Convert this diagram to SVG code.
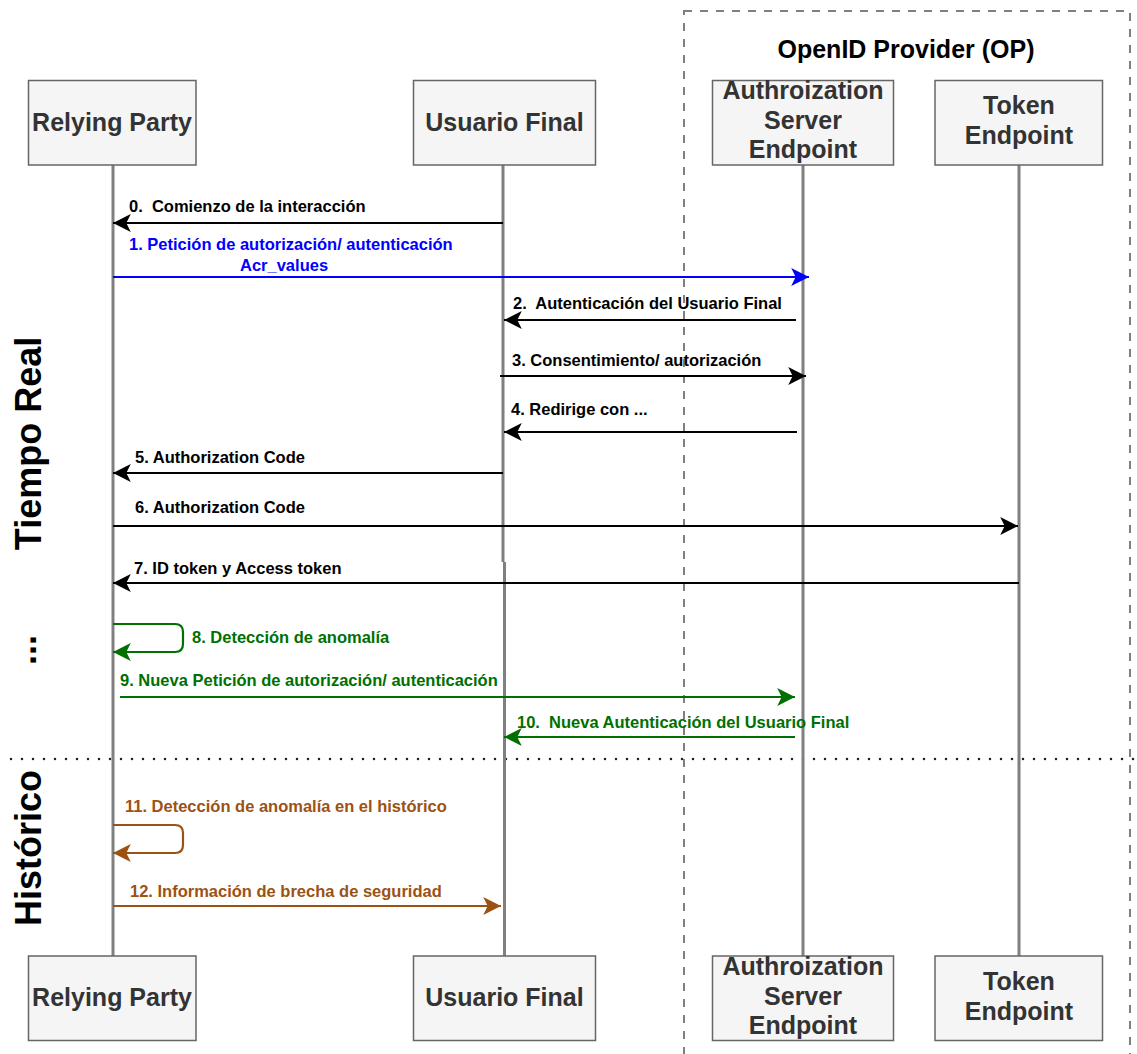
<svg xmlns="http://www.w3.org/2000/svg" width="1137" height="1054" viewBox="0 0 1137 1054">
  <style>
    .box { fill: #f5f5f5; stroke: #666666; stroke-width: 1.5; }
    .ntext { font-family: "Liberation Sans", Arial, sans-serif; font-weight: bold; font-size: 25px; fill: #333333; text-anchor: middle; }
    .life { stroke: #808080; stroke-width: 3; fill: none; }
    .lbl { font-family: "Liberation Sans", Arial, sans-serif; font-weight: bold; font-size: 16.5px; white-space: pre; }
    .side { font-family: "Liberation Sans", Arial, sans-serif; font-weight: bold; font-size: 36px; fill: #000000; text-anchor: middle; }
    .blk { stroke: #000000; stroke-width: 2.2; fill: none; }
    .blu { stroke: #0000ff; stroke-width: 2.2; fill: none; }
    .grn { stroke: #007000; stroke-width: 2.2; fill: none; }
    .brn { stroke: #9c5212; stroke-width: 2.2; fill: none; }
  </style>
  <defs>
    <marker id="ahBlack" markerUnits="userSpaceOnUse" markerWidth="20" markerHeight="20" viewBox="-17 -9 18 18" refX="0" refY="0" orient="auto">
      <path d="M0,0 L-16,-8 L-12,0 L-16,8 Z" fill="#000000"/>
    </marker>
    <marker id="ahBlue" markerUnits="userSpaceOnUse" markerWidth="20" markerHeight="20" viewBox="-17 -9 18 18" refX="0" refY="0" orient="auto">
      <path d="M0,0 L-16,-8 L-12,0 L-16,8 Z" fill="#0000ff"/>
    </marker>
    <marker id="ahGreen" markerUnits="userSpaceOnUse" markerWidth="20" markerHeight="20" viewBox="-17 -9 18 18" refX="0" refY="0" orient="auto">
      <path d="M0,0 L-16,-8 L-12,0 L-16,8 Z" fill="#007000"/>
    </marker>
    <marker id="ahBrown" markerUnits="userSpaceOnUse" markerWidth="20" markerHeight="20" viewBox="-17 -9 18 18" refX="0" refY="0" orient="auto">
      <path d="M0,0 L-16,-8 L-12,0 L-16,8 Z" fill="#9c5212"/>
    </marker>
  </defs>

  <rect width="1137" height="1054" fill="#ffffff"/>

  <!-- OpenID Provider boundary -->
  <g id="op-group">
    <rect x="684" y="11" width="446" height="1060" fill="none" stroke="#808080" stroke-width="2" stroke-dasharray="8 8"/>
    <text x="906" y="58" font-family="Liberation Sans, Arial, sans-serif" font-weight="bold" font-size="25" text-anchor="middle" fill="#000000">OpenID Provider (OP)</text>
  </g>

  <!-- phase labels -->
  <g id="phases">
    <text class="side" transform="translate(41,443.5) rotate(-90)">Tiempo Real</text>
    <text class="side" transform="translate(36,650) rotate(-90)">...</text>
    <text class="side" transform="translate(41,848) rotate(-90)">Histórico</text>
    <line x1="11" y1="759" x2="1137" y2="759" stroke="#222222" stroke-width="2.5" stroke-linecap="round" stroke-dasharray="0 11"/>
  </g>

  <!-- lifelines -->
  <g id="lifelines">
    <line class="life" x1="113" y1="165" x2="113" y2="956"/>
    <path class="life" d="M503,165 L503,562 M504.5,562 L504.5,956"/>
    <line class="life" x1="803" y1="165" x2="803" y2="956"/>
    <line class="life" x1="1019" y1="165" x2="1019" y2="956"/>
  </g>

  <!-- participants -->
  <g id="relying-party-top">
    <rect class="box" x="28.5" y="80.5" width="167.5" height="84.5"/>
    <text class="ntext" x="112" y="131">Relying Party</text>
  </g>
  <g id="usuario-final-top">
    <rect class="box" x="413.5" y="80.5" width="182" height="84.5"/>
    <text class="ntext" x="504.5" y="131">Usuario Final</text>
  </g>
  <g id="auth-server-top">
    <rect class="box" x="712.5" y="80.5" width="181" height="84.5"/>
    <text class="ntext" x="803" y="99">Authroization</text>
    <text class="ntext" x="803" y="129">Server</text>
    <text class="ntext" x="803" y="158">Endpoint</text>
  </g>
  <g id="token-endpoint-top">
    <rect class="box" x="935" y="80.5" width="167.5" height="84.5"/>
    <text class="ntext" x="1019" y="114">Token</text>
    <text class="ntext" x="1019" y="144">Endpoint</text>
  </g>

  <g id="relying-party-bottom">
    <rect class="box" x="28.5" y="956" width="167.5" height="84.5"/>
    <text class="ntext" x="112" y="1006">Relying Party</text>
  </g>
  <g id="usuario-final-bottom">
    <rect class="box" x="413.5" y="956" width="182" height="84.5"/>
    <text class="ntext" x="504.5" y="1006">Usuario Final</text>
  </g>
  <g id="auth-server-bottom">
    <rect class="box" x="712.5" y="956" width="181" height="84.5"/>
    <text class="ntext" x="803" y="975">Authroization</text>
    <text class="ntext" x="803" y="1005">Server</text>
    <text class="ntext" x="803" y="1034">Endpoint</text>
  </g>
  <g id="token-endpoint-bottom">
    <rect class="box" x="935" y="956" width="167.5" height="84.5"/>
    <text class="ntext" x="1019" y="990">Token</text>
    <text class="ntext" x="1019" y="1020">Endpoint</text>
  </g>

  <!-- messages -->
  <g id="connectors">
    <line class="blk" x1="503" y1="223" x2="113" y2="223" marker-end="url(#ahBlack)"/>
    <line class="blu" x1="113" y1="277" x2="809" y2="277" marker-end="url(#ahBlue)"/>
    <line class="blk" x1="796" y1="320" x2="504" y2="320" marker-end="url(#ahBlack)"/>
    <line class="blk" x1="500" y1="376" x2="806" y2="376" marker-end="url(#ahBlack)"/>
    <line class="blk" x1="797" y1="432" x2="504" y2="432" marker-end="url(#ahBlack)"/>
    <line class="blk" x1="503" y1="473" x2="113" y2="473" marker-end="url(#ahBlack)"/>
    <line class="blk" x1="113" y1="526" x2="1018" y2="526" marker-end="url(#ahBlack)"/>
    <line class="blk" x1="1019" y1="583" x2="113" y2="583" marker-end="url(#ahBlack)"/>
    <path class="grn" d="M113,624 L175,624 Q183,624 183,632 L183,644 Q183,652 175,652 L113,652" marker-end="url(#ahGreen)"/>
    <line class="grn" x1="120" y1="697" x2="795" y2="697" marker-end="url(#ahGreen)"/>
    <line class="grn" x1="795" y1="737" x2="504" y2="737" marker-end="url(#ahGreen)"/>
    <path class="brn" d="M113,825 L175,825 Q183,825 183,833 L183,845 Q183,853 175,853 L113,853" marker-end="url(#ahBrown)"/>
    <line class="brn" x1="113" y1="906" x2="501" y2="906" marker-end="url(#ahBrown)"/>
  </g>

  <!-- message labels -->
  <g id="labels">
    <text class="lbl" x="129" y="212" fill="#000000">0.  Comienzo de la interacción</text>
    <text class="lbl" x="129" y="250" fill="#0000ff">1. Petición de autorización/ autenticación</text>
    <text class="lbl" x="240" y="271" fill="#0000ff">Acr_values</text>
    <text class="lbl" x="513" y="309" fill="#000000">2.  Autenticación del Usuario Final</text>
    <text class="lbl" x="512" y="366" fill="#000000">3. Consentimiento/ autorización</text>
    <text class="lbl" x="511" y="415" fill="#000000">4. Redirige con ...</text>
    <text class="lbl" x="135" y="463" fill="#000000">5. Authorization Code</text>
    <text class="lbl" x="135" y="513" fill="#000000">6. Authorization Code</text>
    <text class="lbl" x="134" y="574" fill="#000000">7. ID token y Access token</text>
    <text class="lbl" x="192" y="643" fill="#007000">8. Detección de anomalía</text>
    <text class="lbl" x="120" y="686" fill="#007000">9. Nueva Petición de autorización/ autenticación</text>
    <text class="lbl" x="517" y="728" fill="#007000">10.  Nueva Autenticación del Usuario Final</text>
    <text class="lbl" x="125" y="812" fill="#9c5212">11. Detección de anomalía en el histórico</text>
    <text class="lbl" x="130" y="897" fill="#9c5212">12. Información de brecha de seguridad</text>
  </g>
</svg>
